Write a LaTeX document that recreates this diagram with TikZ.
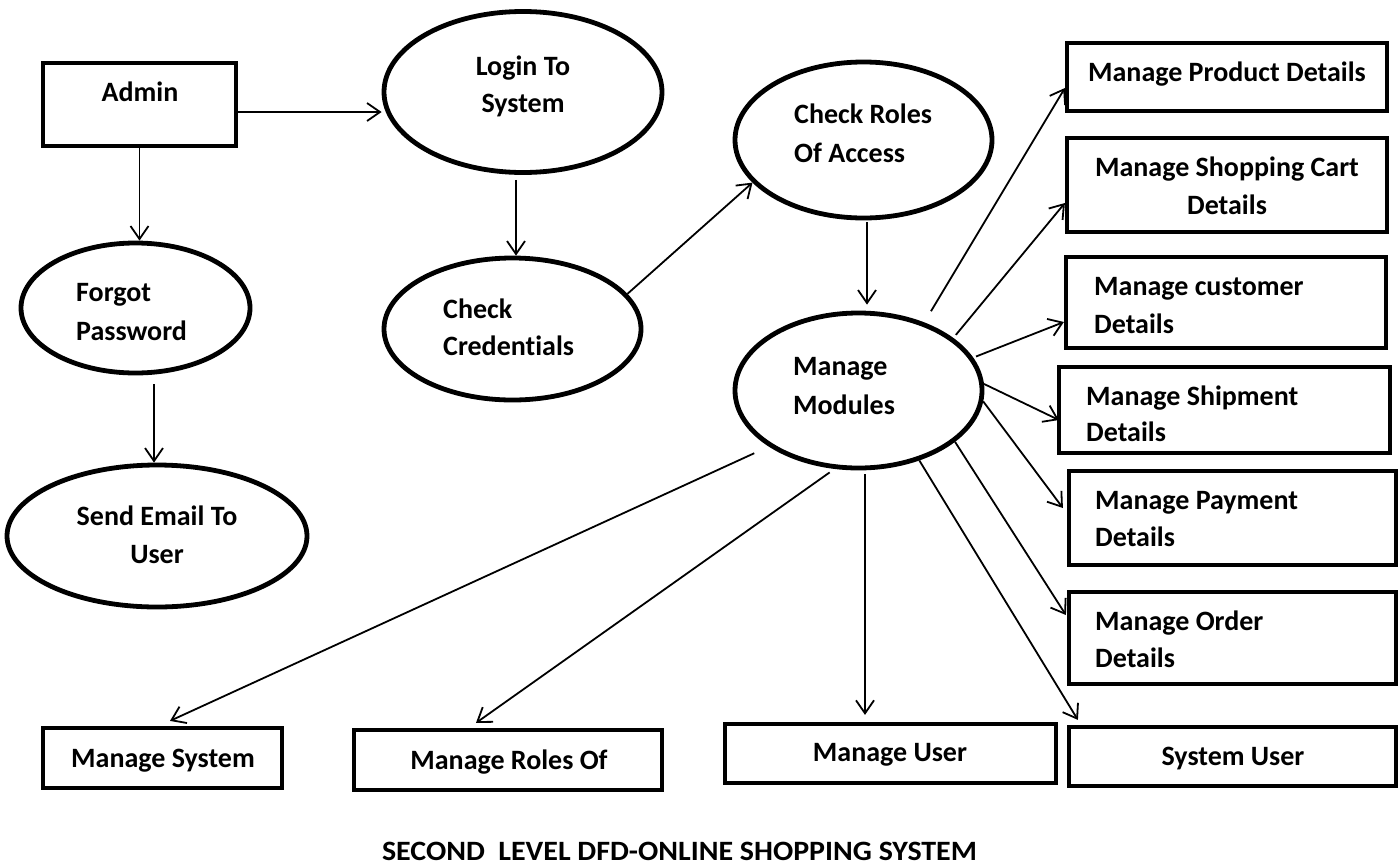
\documentclass[tikz,border=0pt]{standalone}
\usepackage{fontspec}
\setmainfont{Carlito}[Ligatures=NoCommon]
\newfontfamily\titlefont{Carlito}[Ligatures=NoCommon,FakeStretch=1.07]
\usetikzlibrary{arrows.meta,shapes.geometric,calc}
\begin{document}
\begin{tikzpicture}[x=1pt,y=-1pt,
  proc/.style={ellipse,draw,line width=4.8pt,inner sep=0pt},
  ent/.style={rectangle,draw,line width=4.2pt,inner sep=0pt},
  txt/.style={font=\fontsize{28}{33}\selectfont\bfseries,inner sep=0pt},
  arr/.style={-{Straight Barb[length=13pt,width=18pt,line width=1.8pt]},line width=1.8pt}]
\useasboundingbox (0,0) rectangle (1399,865);
% processes
\node[proc,minimum width=278pt,minimum height=161pt] (login) at (523,92) {};
\node[proc,minimum width=229pt,minimum height=130pt] (forgot) at (135.5,308) {};
\node[proc,minimum width=300pt,minimum height=142pt] (send) at (157,536) {};
\node[proc,minimum width=257pt,minimum height=142pt] (cred) at (512.5,329) {};
\node[proc,minimum width=257pt,minimum height=156pt] (roles) at (863.5,140) {};
\node[proc,minimum width=247pt,minimum height=155pt] (mm) at (858.5,390.5) {};
% entities
\node[ent,minimum width=193pt,minimum height=83pt] (admin) at (139.5,104.5) {};
\node[ent,minimum width=320pt,minimum height=68pt] (prod) at (1227,77) {};
\node[ent,minimum width=320pt,minimum height=94pt] (cart) at (1227,185) {};
\node[ent,minimum width=320pt,minimum height=91pt] (cust) at (1226,302.5) {};
\node[ent,minimum width=331pt,minimum height=86pt] (ship) at (1224.5,410) {};
\node[ent,minimum width=327pt,minimum height=94pt] (pay) at (1232.5,518) {};
\node[ent,minimum width=327pt,minimum height=92pt] (order) at (1232.5,638) {};
\node[ent,minimum width=327pt,minimum height=59pt] (sysuser) at (1232.5,756.5) {};
\node[ent,minimum width=331pt,minimum height=59pt] (muser) at (890.5,753.5) {};
\node[ent,minimum width=239pt,minimum height=60pt] (msys) at (162.5,758) {};
\node[ent,minimum width=308pt,minimum height=60pt] (mroles) at (508,760) {};
% texts
\node[txt,anchor=base] (t1) at (140,101.5) {Admin};
\node[txt,anchor=base] (t2) at (523,75.5) {Login To};
\node[txt,anchor=base] (t3) at (523,112.5) {System};
\node[txt,anchor=base west] (t4) at (76,301.5) {Forgot};
\node[txt,anchor=base west] (t5) at (76,340.5) {Password};
\node[txt,anchor=base] (t6) at (157,525.5) {Send Email To};
\node[txt,anchor=base] (t7) at (157,563.5) {User};
\node[txt,anchor=base west] (t8) at (443,318.5) {Check};
\node[txt,anchor=base west] (t9) at (443,355.5) {Credentials};
\node[txt,anchor=base west] (t10) at (794,123.5) {Check Roles};
\node[txt,anchor=base west] (t11) at (794,162.5) {Of Access};
\node[txt,anchor=base west] (t12) at (793,375.5) {Manage};
\node[txt,anchor=base west] (t13) at (793,414.5) {Modules};
\node[txt,anchor=base] (t14) at (1227,81.5) {Manage Product Details};
\node[txt,anchor=base] (t15) at (1227,176.5) {Manage Shopping Cart};
\node[txt,anchor=base] (t16) at (1227,214.5) {Details};
\node[txt,anchor=base west] (t17) at (1094,295.5) {Manage customer};
\node[txt,anchor=base west] (t18) at (1094,333.5) {Details};
\node[txt,anchor=base west] (t19) at (1086,405.5) {Manage Shipment};
\node[txt,anchor=base west] (t20) at (1086,441.5) {Details};
\node[txt,anchor=base west] (t21) at (1095,509.5) {Manage Payment};
\node[txt,anchor=base west] (t22) at (1095,546.5) {Details};
\node[txt,anchor=base west] (t23) at (1095,630.5) {Manage Order};
\node[txt,anchor=base west] (t24) at (1095,667.5) {Details};
\node[txt,anchor=base] (t25) at (1233,765.5) {System User};
\node[txt,anchor=base] (t26) at (890,761.5) {Manage User};
\node[txt,anchor=base] (t27) at (163,767.5) {Manage System};
\node[txt,anchor=base] (t28) at (509,769.5) {Manage Roles Of};
\node[txt,font=\fontsize{28}{33}\titlefont\bfseries,anchor=base] (title) at (679.5,860) {SECOND\ \ LEVEL DFD-ONLINE SHOPPING SYSTEM};
% connectors
\draw[arr] ($(admin.east)+(0,7.5)$) coordinate (c1) -- (c1 -| login.west);
\draw[arr] (admin.south) -- (admin.south |- forgot.north);
\draw[arr] ($(forgot.south)+(18.5,9)$) coordinate (c2) -- (c2 |- send.north);
\draw[arr] ($(login.south)+(-7,5)$) coordinate (c3) -- (c3 |- cred.north);
\draw[arr] (cred.17) -- (roles.201);
\draw[arr,shorten >=6pt] ($(roles.south)+(3.5,2)$) coordinate (c4) -- (c4 |- mm.north);
\draw[arr,shorten <=13pt] (mm.46) -- ($(prod.west)+(0,11)$);
\draw[arr,shorten <=4pt] (mm.29) -- ($(cart.west)+(0,18)$);
\draw[arr,shorten <=3pt] (mm.16.5) -- ($(cust.west)+(0,19.5)$);
\draw[arr] (mm.3.4) -- ($(ship.west)+(2,10)$);
\draw[arr] (mm.-5.8) -- ($(pay.west)+(-4,-10)$);
\draw[arr] (mm.-28) -- ($(order.west)+(-1,-23)$);
\draw[arr] (mm.-49.8) -- ($(sysuser.north west)+(11,-5)$);
\draw[arr,shorten <=4pt,shorten >=7pt] ($(mm.south)+(6.5,0)$) coordinate (c5) -- (c5 |- muser.north);
\draw[arr,shorten <=6pt] (mm.-107.4) -- ($(mroles.north)+(-32,-5)$);
\draw[arr,shorten <=16pt] (mm.-148) -- ($(msys.north)+(7.5,-5)$);
\end{tikzpicture}
\end{document}
